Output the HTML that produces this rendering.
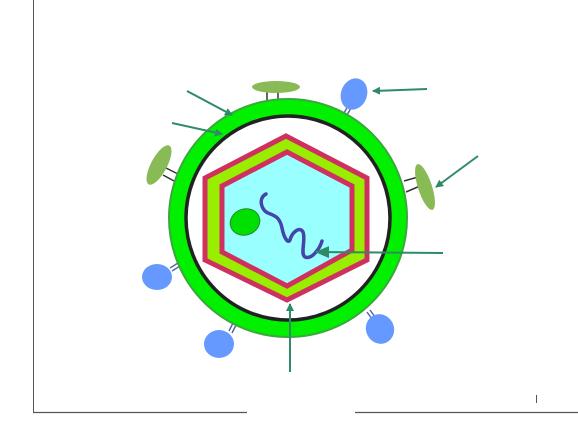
<!DOCTYPE html>
<html><head><meta charset="utf-8"><style>html,body{margin:0;padding:0;background:#fff;}svg{display:block;}</style></head>
<body>
<svg width="578" height="432" viewBox="0 0 578 432">
<defs><marker id="ah" markerWidth="8" markerHeight="8" refX="7" refY="4" orient="auto" markerUnits="userSpaceOnUse" viewBox="0 0 8 8"><path d="M0,0 L8,4 L0,8 z" fill="#2e8b66"/></marker>
<marker id="ah2" markerWidth="14" markerHeight="12" refX="13" refY="6" orient="auto" markerUnits="userSpaceOnUse" viewBox="0 0 14 12"><path d="M0,0 L14,6 L0,12 z" fill="#2e8b66"/></marker></defs>
<g>
<line x1="33.5" y1="0" x2="33.5" y2="412" stroke="#555" stroke-width="1"/>
<line x1="33" y1="412.5" x2="247" y2="412.5" stroke="#555" stroke-width="1.2"/>
<line x1="355" y1="412.5" x2="578" y2="412.5" stroke="#555" stroke-width="1.2"/>
<line x1="536.5" y1="395" x2="536.5" y2="403" stroke="#555" stroke-width="1"/>
</g>
<g stroke="#333" stroke-width="1.5">
<line x1="267" y1="92" x2="267" y2="108"/><line x1="278" y1="92" x2="278" y2="108"/>
<line x1="166" y1="168" x2="178" y2="174"/><line x1="163" y1="175" x2="174" y2="181"/>
<line x1="404" y1="181" x2="418" y2="177"/><line x1="406" y1="192" x2="420" y2="186"/>
<g stroke="#5566aa"><line x1="348" y1="106" x2="344" y2="113"/><line x1="351" y1="108" x2="347" y2="115"/>
<line x1="170" y1="268" x2="178" y2="263"/><line x1="172" y1="271" x2="180" y2="266"/>
<line x1="229" y1="331" x2="233" y2="323"/><line x1="232" y1="333" x2="236" y2="325"/>
<line x1="367" y1="312" x2="372" y2="319"/><line x1="370" y1="310" x2="375" y2="317"/></g>
</g>
<circle cx="288" cy="218" r="110" fill="none" stroke="#00f000" stroke-width="18"/>
<circle cx="288" cy="218" r="119" fill="none" stroke="#3aa83a" stroke-width="2"/>
<circle cx="288" cy="218" r="102" fill="#fff" stroke="#222" stroke-width="3.5"/>
<polygon points="286,136 367,178 367,260 287,300 205,260 205,178" fill="#99ee00" stroke="#d03060" stroke-width="5"/>
<polygon points="287,152 352,186 352,250 287,286 222,252 222,186" fill="#99ffff" stroke="#d03060" stroke-width="5"/>
<ellipse cx="245" cy="222" rx="15" ry="13" transform="rotate(-20 245 222)" fill="#00e000" stroke="#228822" stroke-width="1"/>
<path d="M266,194 C258,198 261,210 268,213 C276,216 280,218 282,228 C284,238 288,244 290,240 C292,232 300,226 303,232 C306,240 300,254 305,257 C312,260 320,248 322,241" fill="none" stroke="#4444aa" stroke-width="3.5" stroke-linecap="round"/>
<g fill="#88bb55">
<ellipse cx="276" cy="87" rx="24" ry="6"/>
<ellipse cx="159" cy="165" rx="8" ry="22" transform="rotate(28 159 165)"/>
<ellipse cx="425" cy="187" rx="7" ry="24" transform="rotate(-18 425 187)"/>
</g>
<g fill="#6699ff">
<ellipse cx="354" cy="94" rx="13" ry="16" transform="rotate(20 354 94)"/>
<ellipse cx="157" cy="277" rx="15" ry="13"/>
<ellipse cx="219" cy="344" rx="15" ry="14"/>
<ellipse cx="380" cy="329" rx="14" ry="15" transform="rotate(-25 380 329)"/>
</g>
<g stroke="#2e8b66" stroke-width="2">
<line x1="187" y1="91" x2="232" y2="115" marker-end="url(#ah)"/>
<line x1="172" y1="123" x2="222" y2="134" marker-end="url(#ah)"/>
<line x1="427" y1="89" x2="373" y2="91" marker-end="url(#ah)"/>
<line x1="478" y1="156" x2="436" y2="187" marker-end="url(#ah)"/>
<line x1="443" y1="253" x2="316" y2="252" marker-end="url(#ah2)"/>
<line x1="290" y1="372" x2="290" y2="304" marker-end="url(#ah)"/>
</g>
</svg>
</body></html>
